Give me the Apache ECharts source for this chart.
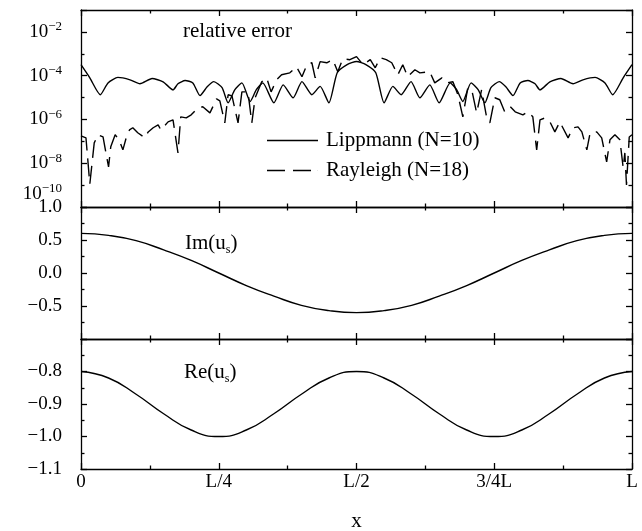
<!DOCTYPE html>
<html>
<head>
<meta charset="utf-8">
<script src="https://cdn.jsdelivr.net/npm/echarts@6/dist/echarts.min.js"></script>
<style>
html, body { margin: 0; padding: 0; background: #fff; }
#chart { width: 642px; height: 531px; }
</style>
</head>
<body>
<div id="chart"></div>
<script>
// x in units of L
const xTickLabels = ['0', 'L/4', 'L/2', '3/4L', 'L'];

// relative error, kept as log10 of the value
const lippX = [0,0.016,0.035,0.049,0.067,0.089,0.107,0.129,0.149,0.167,0.176,0.189,0.203,0.216,0.229,0.241,0.256,0.267,0.279,0.292,0.307,0.318,0.330,0.350,0.367,0.385,0.401,0.419,0.434,0.450,0.465,0.483,0.5,
  0.517,0.535,0.550,0.566,0.581,0.599,0.615,0.633,0.650,0.670,0.682,0.693,0.708,0.721,0.733,0.744,0.759,0.771,0.784,0.797,0.811,0.824,0.833,0.851,0.871,0.893,0.911,0.933,0.951,0.965,0.984,1];
const lippLog = [-3.50,-4.10,-4.87,-4.33,-4.08,-4.19,-4.37,-4.13,-4.28,-4.65,-4.37,-4.22,-4.33,-4.91,-4.51,-4.27,-4.55,-5.24,-4.65,-4.33,-5.18,-4.65,-4.33,-5.24,-4.42,-5.01,-4.27,-4.87,-4.49,-5.24,-3.87,-3.50,-3.35,
  -3.50,-3.87,-5.24,-4.49,-4.87,-4.27,-5.01,-4.42,-5.24,-4.33,-4.65,-5.18,-4.33,-4.65,-5.24,-4.55,-4.27,-4.51,-4.91,-4.33,-4.22,-4.37,-4.65,-4.28,-4.13,-4.37,-4.19,-4.08,-4.33,-4.87,-4.10,-3.50];

const rayX = [0,0.009,0.016,0.024,0.031,0.040,0.050,0.054,0.062,0.069,
  0.076,0.082,0.088,0.094,0.103,0.116,0.122,0.131,0.140,0.145,
  0.158,0.167,0.176,0.181,0.191,0.200,0.212,0.221,0.234,0.246,
  0.252,0.261,0.267,0.274,0.285,0.292,0.303,0.310,0.316,0.328,
  0.337,0.345,0.355,0.364,0.379,0.391,0.401,0.410,0.419,0.425,
  0.434,0.446,0.457,0.466,0.475,0.488,0.500,0.512,0.525,0.534,
  0.543,0.554,0.564,0.575,0.584,0.593,0.606,0.615,0.633,0.642,
  0.655,0.664,0.675,0.684,0.693,0.702,0.710,0.718,0.727,0.736,
  0.742,0.751,0.760,0.769,0.779,0.788,0.802,0.811,0.820,0.827,
  0.833,0.842,0.851,0.860,0.869,0.884,0.893,0.902,0.909,0.918,
  0.924,0.936,0.945,0.954,0.960,0.969,0.978,0.984,0.987,0.990,
  0.995,1];
const rayLog = [-6.75,-6.84,-8.95,-7.07,-6.70,-6.80,-8.17,-7.25,-6.70,-6.93,
  -7.39,-6.84,-6.48,-6.38,-6.61,-6.84,-6.57,-6.38,-6.25,-6.48,
  -6.11,-6.02,-7.53,-5.88,-5.93,-5.79,-5.47,-5.42,-5.70,-5.06,
  -5.15,-6.16,-4.87,-4.92,-6.16,-4.74,-4.74,-6.16,-5.01,-4.28,
  -4.10,-4.74,-4.19,-3.96,-3.87,-3.59,-4.05,-3.50,-3.41,-4.10,
  -3.36,-3.41,-3.27,-3.82,-3.23,-3.27,-3.13,-3.50,-3.27,-3.64,
  -3.18,-3.27,-3.41,-3.96,-3.50,-4.05,-3.73,-3.87,-3.82,-4.33,
  -4.10,-4.33,-4.28,-4.87,-5.88,-4.55,-4.74,-5.70,-4.65,-5.88,
  -6.16,-5.01,-5.10,-5.65,-5.42,-5.65,-5.79,-5.65,-5.88,-7.39,
  -6.02,-5.93,-6.11,-6.57,-6.11,-6.84,-6.38,-6.34,-6.57,-7.39,
  -6.61,-6.57,-6.84,-7.94,-6.93,-6.70,-6.93,-8.21,-7.53,-8.99,
  -6.80,-6.70];

// scattered field
const fieldX = [0,0.05,0.1,0.15,0.2,0.25,0.3,0.35,0.4,0.45,0.5,0.55,0.6,0.65,0.7,0.75,0.8,0.85,0.9,0.95,1];
const imU = [0.60,0.57,0.49,0.35,0.19,0.00,-0.19,-0.35,-0.49,-0.57,-0.60,-0.57,-0.49,-0.35,-0.19,0.00,0.19,0.35,0.49,0.57,0.60];
const reU = [-0.80,-0.82,-0.87,-0.93,-0.98,-1.00,-0.98,-0.93,-0.87,-0.82,-0.80,-0.82,-0.87,-0.93,-0.98,-1.00,-0.98,-0.93,-0.87,-0.82,-0.80];

const FONT = 'Liberation Serif';
const pairs = (xs, ys) => xs.map((x, i) => [x, ys[i]]);

let chart = echarts.init(document.getElementById('chart'));

const lineBlack = { color: '#000', width: 1.3 };
const tickOpt = { show: true, inside: true, length: 6, lineStyle: lineBlack };
const minorOpt = (n) => ({ show: true, splitNumber: n, length: 3.5, lineStyle: lineBlack });

function xAx(grid, pos, labels) {
  return {
    type: 'value', gridIndex: grid, position: pos, min: 0, max: 1, interval: 0.25,
    axisLine: { show: true, onZero: false, lineStyle: lineBlack },
    axisTick: tickOpt, minorTick: minorOpt(2), splitLine: { show: false },
    axisLabel: {
      show: labels, margin: 4, color: '#000', fontFamily: FONT, fontSize: 19,
      formatter: v => xTickLabels[Math.round(v * 4)]
    }
  };
}

function yAx(grid, pos, min, max, interval, fmt) {
  return {
    type: 'value', gridIndex: grid, position: pos, min: min, max: max, interval: interval,
    axisLine: { show: true, onZero: false, lineStyle: lineBlack },
    axisTick: tickOpt, minorTick: minorOpt(2), splitLine: { show: false },
    axisLabel: fmt ? {
      show: true, margin: 19, color: '#000', fontFamily: FONT, fontSize: 19,
      formatter: fmt,
      rich: {
        c: { fontFamily: FONT, fontSize: 19, color: '#000' },
        d: { fontFamily: FONT, fontSize: 13, color: '#000', padding: [0, 0, 10, 0] },
        a: { fontFamily: FONT, fontSize: 19, color: '#000', padding: [0, 0, 26, 0] },
        b: { fontFamily: FONT, fontSize: 13, color: '#000', padding: [0, 0, 36, 0] }
      }
    } : { show: false }
  };
}

const minus = v => (v < 0 ? '\u2212' : '') + Math.abs(v).toFixed(1);

const option = {
  backgroundColor: '#fff',
  animation: false,
  grid: [
    { left: 81, right: 10, top: 10, height: 197, outerBoundsMode: 'none' },
    { left: 81, right: 10, top: 207, height: 132, outerBoundsMode: 'none' },
    { left: 81, right: 10, top: 339, height: 130, outerBoundsMode: 'none' }
  ],
  xAxis: [
    xAx(0, 'bottom', false), xAx(0, 'top', false),
    xAx(1, 'bottom', false), xAx(1, 'top', false),
    Object.assign(xAx(2, 'bottom', true), {
      name: 'x', nameLocation: 'middle', nameGap: 42,
      nameTextStyle: { fontFamily: FONT, fontSize: 21, color: '#000' }
    }),
    xAx(2, 'top', false)
  ],
  yAxis: [
    yAx(0, 'left', -10, -1, 2, v => {
      if (v > -1.5) return '';
      if (v === -10) return '{a|10}{b|\u221210}';
      return '{c|10}{d|\u2212' + (-v) + '}';
    }),
    yAx(0, 'right', -10, -1, 2, null),
    yAx(1, 'left', -1, 1, 0.5, v => (v < -0.9 ? '' : minus(v))),
    yAx(1, 'right', -1, 1, 0.5, null),
    yAx(2, 'left', -1.1, -0.7, 0.1, v => (v > -0.75 ? '' : minus(v))),
    yAx(2, 'right', -1.1, -0.7, 0.1, null)
  ],
  legend: {
    orient: 'vertical', left: 262, top: 125,
    itemWidth: 51, itemHeight: 14, itemGap: 9,
    textStyle: { fontFamily: FONT, fontSize: 21, color: '#000', lineHeight: 20, padding: [0, 0, 0, 3] },
    data: [
      { name: 'Lippmann (N=10)', icon: 'path://M0 0H51V1.4H0Z' },
      { name: 'Rayleigh (N=18)', icon: 'path://M0 0H18V1.4H0ZM26 0H44V1.4H26ZM50.9 0H51V1.4H50.9Z' }
    ]
  },
  graphic: [
    { type: 'text', x: 183, y: 31, style: { text: 'relative error', fontFamily: FONT, fontSize: 21, fill: '#000', verticalAlign: 'middle' } },
    { type: 'text', x: 185, y: 243, style: {
      text: '{n|Im(u}{s|s}{n|)}', verticalAlign: 'middle',
      rich: { n: { fontFamily: FONT, fontSize: 21, fill: '#000' }, s: { fontFamily: FONT, fontSize: 12, fill: '#000', padding: [14, 0, 0, 0] } }
    } },
    { type: 'text', x: 184, y: 372, style: {
      text: '{n|Re(u}{s|s}{n|)}', verticalAlign: 'middle',
      rich: { n: { fontFamily: FONT, fontSize: 21, fill: '#000' }, s: { fontFamily: FONT, fontSize: 12, fill: '#000', padding: [14, 0, 0, 0] } }
    } }
  ],
  series: [
    {
      name: 'Lippmann (N=10)', type: 'line', xAxisIndex: 0, yAxisIndex: 0,
      data: pairs(lippX, lippLog), showSymbol: false, symbol: 'none', smooth: 0.2,
      lineStyle: { color: '#000', width: 1.4 }, itemStyle: { color: '#000' }
    },
    {
      name: 'Rayleigh (N=18)', type: 'line', xAxisIndex: 0, yAxisIndex: 0,
      data: pairs(rayX, rayLog), showSymbol: false, symbol: 'none',
      lineStyle: { color: '#000', width: 1.4, type: [18, 8] }, itemStyle: { color: '#000' }
    },
    {
      type: 'line', xAxisIndex: 2, yAxisIndex: 2, data: pairs(fieldX, imU),
      showSymbol: false, symbol: 'none', smooth: true, lineStyle: { color: '#000', width: 1.4 }
    },
    {
      type: 'line', xAxisIndex: 4, yAxisIndex: 4, data: pairs(fieldX, reU),
      showSymbol: false, symbol: 'none', smooth: true, lineStyle: { color: '#000', width: 1.4 }
    }
  ]
};

chart.setOption(option);
</script>
</body>
</html>
